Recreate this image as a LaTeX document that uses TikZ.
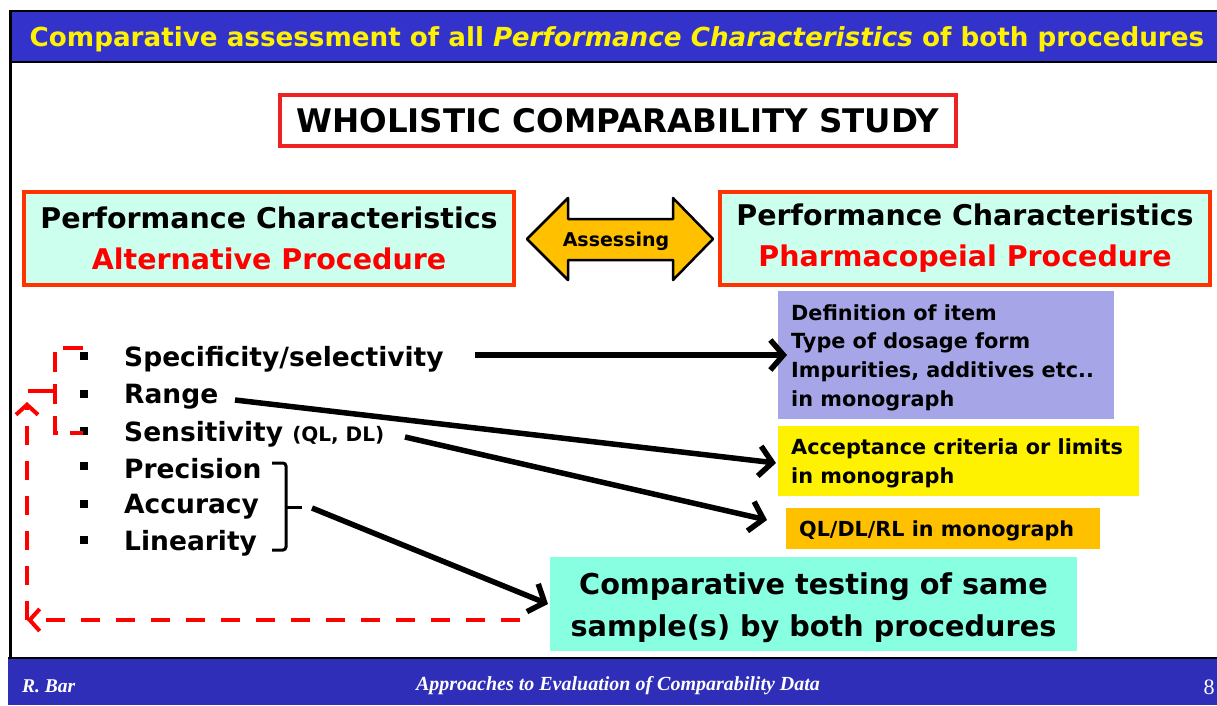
\documentclass[tikz,border=0pt]{standalone}
\usepackage{fontspec}
\setmainfont{DejaVu Sans}
\newfontfamily\serfont{Liberation Serif}
\usetikzlibrary{arrows.meta}
\definecolor{bandblue}{RGB}{51,51,204}
\definecolor{footblue}{RGB}{46,46,184}
\definecolor{lightaqua}{RGB}{204,255,238}
\definecolor{boxred}{RGB}{255,51,0}
\definecolor{lav}{RGB}{165,165,232}
\definecolor{gold}{RGB}{255,192,0}
\definecolor{aqua}{RGB}{136,255,224}
\definecolor{titlered}{RGB}{238,34,34}
\definecolor{txtred}{RGB}{255,0,0}
\begin{document}
\begin{tikzpicture}[x=1pt,y=-1pt,
  pcbox/.style={draw=boxred, line width=4pt, fill=lightaqua, minimum width=490pt, minimum height=93pt, align=center, inner sep=0pt, font=\bfseries\fontsize{28.5}{41}\selectfont},
  infobox/.style={inner sep=0pt, align=left, anchor=west, font=\bfseries\fontsize{20.8}{28.7}\selectfont},
  itemtxt/.style={anchor=west, inner sep=0pt, font=\bfseries\fontsize{26.5}{30}\selectfont},
  bulletsq/.style={fill=black, minimum size=8pt, inner sep=0pt},
  bigarrow/.style={line width=5.5pt, -{Straight Barb[length=13pt,width=30pt]}},
  reddash/.style={draw=txtred, line width=4pt, dash pattern=on 19pt off 16pt},
  redarrow/.style={reddash, -{Straight Barb[length=10pt,width=22pt]}}
]
\useasboundingbox (0,0) rectangle (1217,705);
% header band
\fill[bandblue] (10,11) rectangle (1217,62);
\draw[line width=2pt] (10,11) -- (1217,11);
\draw[line width=2pt] (10,62) -- (1217,62);
\draw[line width=3pt] (10,10) -- (10,658);
\node[text=yellow, inner sep=0pt, font=\bfseries\fontsize{26.2}{30}\selectfont] (title) at (617,39)
  {Comparative assessment of all \textit{Performance Characteristics} of both procedures};
% footer band
\fill[footblue] (8,658) rectangle (1217,705);
\draw[line width=2pt] (8,658) -- (1217,658);
\node[anchor=west, text=white, inner sep=0pt, font=\serfont\bfseries\itshape\fontsize{19.5}{22}\selectfont] (author) at (22,686) {R. Bar};
\node[text=white, inner sep=0pt, font=\serfont\bfseries\itshape\fontsize{20}{22}\selectfont] (foot) at (618,686) {Approaches to Evaluation of Comparability Data};
\node[text=white, inner sep=0pt, font=\serfont\fontsize{22}{24}\selectfont] (pagenum) at (1209,687) {8};
% main title box
\node[draw=titlered, line width=4pt, minimum width=676pt, minimum height=51pt, inner sep=0pt, font=\bfseries\fontsize{32.5}{34}\selectfont] (wcs) at (618,120.5) {\raisebox{-1pt}{WHOLISTIC COMPARABILITY STUDY}};
% performance boxes
\node[pcbox] (alt) at (269,238.5) {\raisebox{-2pt}{Performance Characteristics}\\\textcolor{txtred}{\raisebox{-2pt}{Alternative Procedure}}};
\node[pcbox] (pharm) at (965,238.5) {\raisebox{-2pt}{Performance Characteristics}\\\textcolor{txtred}{\raisebox{-2pt}{Pharmacopeial Procedure}}};
% double arrow
\draw[fill=gold, line width=2.5pt, line join=round] (527,239) -- (568,198) -- (568,219) -- (673,219) -- (673,198) -- (713,239) -- (673,280) -- (673,260) -- (568,260) -- (568,280) -- cycle;
\node[inner sep=0pt, font=\bfseries\fontsize{19}{22}\selectfont] (assess) at (616,241) {Assessing};
% right info boxes
\fill[lav] (778,291) rectangle (1114,419);
\node[infobox] (defs) at (791,357.5) {Definition of item\\Type of dosage form\\Impurities, additives etc..\\in monograph};
\coordinate (purplewest) at (778,355);
\fill[yellow] (778,426) rectangle (1139,496);
\node[infobox] (accept) at (791,463.5) {Acceptance criteria or limits\\in monograph};
\coordinate (yellowwest) at (778,463);
\fill[gold] (786,508) rectangle (1100,549);
\node[anchor=west, inner sep=0pt, font=\bfseries\fontsize{20.7}{24}\selectfont] (qldl) at (799,531) {QL/DL/RL in monograph};
\coordinate (orangewest) at (786,528);
% testing box
\fill[aqua] (550,557) rectangle (1077,651);
\node[inner sep=0pt, align=center, font=\bfseries\fontsize{28.7}{42}\selectfont] (testing) at (813.5,608) {Comparative testing of same\\sample(s) by both procedures};
\coordinate (testwest) at (550,604);
% bullet list
\foreach \n/\yy in {1/356,2/394,3/431,4/466,5/504,6/540}{
  \node[bulletsq] (b\n) at (84,\yy) {};
}
\node[itemtxt] (i1) at (124,359) {Specificity/selectivity};
\node[itemtxt] (i2) at (124,397) {Range};
\node[itemtxt] (i3) at (124,434) {Sensitivity {\fontsize{20}{22}\selectfont (QL, DL)}};
\node[itemtxt] (i4) at (124,469) {Precision};
\node[itemtxt] (i5) at (124,507) {Accuracy};
\node[itemtxt] (i6) at (124,543) {Linearity};
% brace
\draw[line width=3pt, rounded corners=3pt] (272,463) -- (286,463) -- (286,550) -- (272,550);
\draw[line width=3pt] (286,507) -- (302,507);
\coordinate (bracetip) at (312,508);
% black arrows
\coordinate (s1) at (475,355);
\coordinate (s2) at (235,400);
\coordinate (s3) at (405,437);
\draw[bigarrow] (s1) -- ([xshift=9pt]purplewest);
\draw[bigarrow] (s2) -- ([xshift=-2pt]yellowwest);
\draw[bigarrow] (s3) -- ([shift={(-19,-8)}]orangewest);
\draw[bigarrow] (bracetip) -- ([xshift=-2pt]testwest);
% red dashed feedback
\coordinate (rd1) at (520,620);
\coordinate (rdc) at (27,620);
\coordinate (rdt) at (27,402);
\draw[redarrow] (rd1) -- (rdc);
\draw[redarrow] (rdc) -- (rdt);
\draw[reddash, dash pattern=on 20pt off 12pt] (83,348) -- (55,348) -- (55,433) -- (83,433);
\draw[reddash, dash pattern=on 28pt off 4pt] (55,391) -- (28,391);
\end{tikzpicture}
\end{document}
